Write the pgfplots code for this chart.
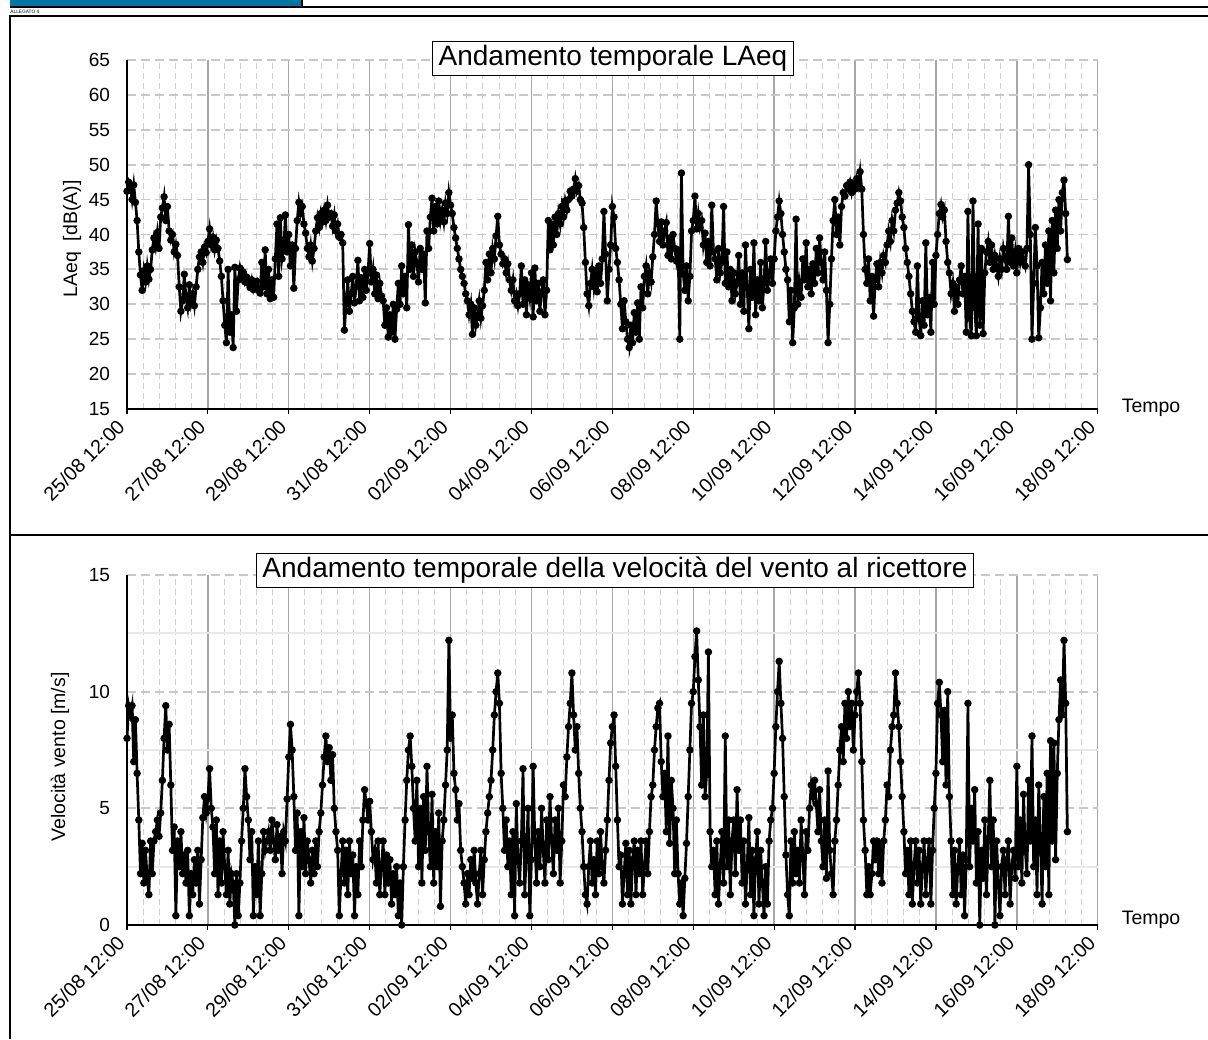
\documentclass[border=0pt]{standalone}
\usepackage{fontspec}
\setmainfont{Liberation Sans}
\usepackage{pgfplots}
\pgfplotsset{compat=1.18}
\definecolor{majgrid}{RGB}{170,166,166}
\definecolor{mingrid}{RGB}{208,208,208}
\definecolor{hgrid}{RGB}{200,200,200}
\definecolor{hmin}{RGB}{232,232,232}
\definecolor{hdrblue}{RGB}{0,118,166}
\pgfplotsset{
  panel/.style={
    scale only axis,
    width=485.35pt,
    xmin=0, xmax=576,
    xtick={0,48,...,576},
    xticklabels={25/08 12:00,27/08 12:00,29/08 12:00,31/08 12:00,02/09 12:00,04/09 12:00,06/09 12:00,08/09 12:00,10/09 12:00,12/09 12:00,14/09 12:00,16/09 12:00,18/09 12:00},
    minor x tick num=4,
    axis x line*=bottom, axis y line*=left,
    axis line style={-, line width=0.75pt, black},
    major tick length=2.5pt, minor tick length=0pt,
    xtick align=outside,
    every major x tick/.append style={black, line width=0.6pt},
    every major y tick/.append style={draw=none},
    xmajorgrids, xminorgrids, ymajorgrids,
    major x grid style={majgrid, line width=0.7pt},
    minor x grid style={mingrid, line width=0.5pt, dash pattern=on 3pt off 2pt},
    major y grid style={hgrid, line width=0.9pt, dash pattern=on 4.5pt off 2.5pt},
    tick label style={font=\fontsize{9.5}{11}\selectfont},
    xticklabel style={rotate=45, anchor=north east, yshift=6.05pt, xshift=-1.9pt, font=\fontsize{9.9}{12}\selectfont},
    yticklabel style={xshift=-5pt},
    /pgf/number format/assume math mode=true,
    clip=false,
  },
  ser/.style={black, line width=1.35pt, mark=*, mark size=1.15pt, mark options={solid, fill=black}},
}
\begin{document}
\begin{tikzpicture}[x=0.5pt, y=0.5pt]
\path[fill=white] (0,0) rectangle (1208,1039);
% header
\fill[hdrblue] (10,1032) rectangle (302,1039);
\draw[line width=1pt] (10,1031.5) -- (1208,1031.5);
\draw[line width=1pt] (302,1031.5) -- (302,1039);
\node[anchor=west, font=\fontsize{2.4}{3}\selectfont, inner sep=0pt] at (10,1027) {ALLEGATO 4};
% frames
\draw[line width=1pt] (9.5,0) -- (9.5,1022.5) -- (1208,1022.5);
\draw[line width=1pt] (9.5,504) -- (1208,504);

\begin{axis}[panel, at={(63.5pt,315pt)}, anchor=south west, height=174.5pt,
  ymin=15, ymax=65, ytick={15,20,...,65}]
\addplot[ser] coordinates {
(0,46.2)(1,47.5)(2,46.8)(3,45.0)(4,47.1)(5,44.6)(6,42.0)(7,37.5)(8,34.2)(9,32.0)(10,34.8)(11,33.2)(12,35.5)(13,33.6)(14,35.0)(15,37.8)(16,39.5)(17,38.2)(18,40.3)(19,38.0)(20,42.5)(21,43.8)(22,45.4)(23,42.0)
(24,44.0)(25,40.5)(26,39.2)(27,40.0)(28,37.5)(29,38.6)(30,37.0)(31,32.5)(32,29.0)(33,30.5)(34,34.3)(35,31.0)(36,29.5)(37,32.8)(38,30.2)(39,31.5)(40,29.8)(41,32.5)(42,35.0)(43,36.8)(44,37.5)(45,36.0)(46,38.2)(47,37.4)
(48,39.0)(49,40.8)(50,38.5)(51,39.6)(52,37.8)(53,39.2)(54,38.0)(55,36.2)(56,34.0)(57,30.5)(58,27.0)(59,24.5)(60,35.0)(61,26.0)(62,28.5)(63,23.8)(64,35.3)(65,29.0)(66,33.5)(67,35.2)(68,33.8)(69,34.6)(70,33.2)(71,33.9)
(72,33.0)(73,32.4)(74,33.5)(75,32.1)(76,32.8)(77,33.3)(78,32.0)(79,31.6)(80,36.0)(81,32.5)(82,37.8)(83,31.5)(84,35.0)(85,30.8)(86,33.5)(87,31.0)(88,36.5)(89,41.5)(90,34.0)(91,42.4)(92,36.5)(93,38.0)(94,42.8)(95,37.5)
(96,40.0)(97,35.5)(98,38.5)(99,32.3)(100,38.0)(101,42.0)(102,44.6)(103,43.0)(104,44.0)(105,41.5)(106,40.2)(107,38.0)(108,36.8)(109,38.5)(110,36.2)(111,38.0)(112,40.5)(113,42.4)(114,41.0)(115,43.0)(116,41.8)(117,43.5)(118,42.0)(119,44.2)
(120,42.5)(121,43.0)(122,41.2)(123,42.8)(124,40.5)(125,41.5)(126,39.6)(127,40.0)(128,38.8)(129,26.3)(130,30.0)(131,33.5)(132,29.0)(133,31.5)(134,34.0)(135,30.2)(136,32.5)(137,36.3)(138,30.5)(139,33.8)(140,31.0)(141,35.0)(142,32.0)(143,34.5)
(144,38.7)(145,33.2)(146,35.0)(147,31.5)(148,34.2)(149,30.8)(150,33.0)(151,31.2)(152,30.5)(153,27.0)(154,29.5)(155,25.3)(156,28.5)(157,26.0)(158,30.0)(159,25.0)(160,29.3)(161,33.0)(162,30.0)(163,35.5)(164,31.5)(165,34.0)(166,29.5)(167,41.4)
(168,35.0)(169,38.5)(170,34.0)(171,37.5)(172,36.0)(173,33.2)(174,38.0)(175,35.0)(176,37.2)(177,30.2)(178,40.5)(179,38.0)(180,42.5)(181,45.2)(182,40.5)(183,44.0)(184,41.5)(185,44.8)(186,42.0)(187,43.5)(188,41.8)(189,44.5)(190,43.0)(191,46.0)
(192,44.2)(193,43.0)(194,41.0)(195,39.5)(196,38.0)(197,36.5)(198,35.0)(199,34.0)(200,33.0)(201,31.5)(202,30.5)(203,28.5)(204,30.0)(205,25.7)(206,29.5)(207,27.0)(208,28.5)(209,30.5)(210,28.0)(211,29.8)(212,32.0)(213,36.0)(214,33.5)(215,37.2)
(216,34.5)(217,38.0)(218,36.5)(219,39.8)(220,42.6)(221,38.5)(222,37.2)(223,35.8)(224,36.5)(225,34.5)(226,35.8)(227,33.5)(228,32.0)(229,33.5)(230,30.5)(231,31.5)(232,29.8)(233,31.5)(234,35.5)(235,30.0)(236,33.5)(237,28.5)(238,32.8)(239,31.0)
(240,34.5)(241,28.2)(242,35.2)(243,30.5)(244,33.0)(245,29.0)(246,31.8)(247,33.5)(248,28.5)(249,32.0)(250,42.0)(251,37.8)(252,41.5)(253,38.5)(254,42.5)(255,40.0)(256,43.0)(257,41.5)(258,44.0)(259,42.5)(260,44.8)(261,43.5)(262,45.0)(263,46.2)
(264,45.5)(265,46.5)(266,48.0)(267,46.2)(268,47.0)(269,45.0)(270,44.5)(271,41.0)(272,36.0)(273,31.5)(274,29.8)(275,33.0)(276,35.0)(277,32.5)(278,34.8)(279,31.8)(280,35.5)(281,33.0)(282,36.5)(283,43.3)(284,37.2)(285,30.5)(286,35.0)(287,38.5)
(288,44.0)(289,42.5)(290,38.0)(291,36.0)(292,33.5)(293,30.0)(294,26.5)(295,30.5)(296,27.5)(297,25.0)(298,23.8)(299,27.0)(300,24.5)(301,28.8)(302,26.0)(303,30.2)(304,25.0)(305,32.5)(306,29.5)(307,34.0)(308,35.5)(309,31.5)(310,34.5)(311,33.2)
(312,36.8)(313,40.0)(314,44.8)(315,41.5)(316,39.0)(317,41.8)(318,38.5)(319,40.5)(320,41.7)(321,37.0)(322,39.5)(323,36.5)(324,40.0)(325,38.0)(326,36.2)(327,37.8)(328,25.0)(329,48.8)(330,34.5)(331,32.0)(332,35.5)(333,30.5)(334,34.0)(335,40.5)
(336,42.0)(337,45.5)(338,40.8)(339,43.0)(340,41.0)(341,42.0)(342,38.5)(343,40.2)(344,36.0)(345,39.0)(346,35.5)(347,44.2)(348,37.5)(349,36.5)(350,33.5)(351,38.0)(352,34.5)(353,36.0)(354,44.0)(355,33.0)(356,37.5)(357,32.5)(358,35.0)(359,30.5)
(360,34.5)(361,31.5)(362,33.0)(363,37.0)(364,30.0)(365,34.5)(366,29.0)(367,38.5)(368,32.5)(369,26.5)(370,35.0)(371,31.0)(372,38.8)(373,28.5)(374,33.5)(375,30.5)(376,36.0)(377,29.5)(378,33.0)(379,39.0)(380,32.0)(381,34.0)(382,36.5)(383,33.0)
(384,36.5)(385,40.5)(386,42.5)(387,44.8)(388,43.0)(389,40.0)(390,37.5)(391,35.0)(392,33.5)(393,27.5)(394,32.0)(395,24.5)(396,29.5)(397,42.2)(398,30.0)(399,33.0)(400,31.0)(401,36.5)(402,33.5)(403,38.8)(404,32.5)(405,35.0)(406,31.5)(407,35.8)
(408,33.0)(409,38.0)(410,34.5)(411,39.5)(412,36.0)(413,33.5)(414,37.5)(415,32.0)(416,24.5)(417,30.0)(418,36.5)(419,42.0)(420,45.0)(421,40.0)(422,42.5)(423,38.5)(424,44.0)(425,46.0)(426,45.5)(427,47.0)(428,46.5)(429,47.5)(430,46.0)(431,47.2)
(432,46.5)(433,48.0)(434,47.0)(435,49.0)(436,46.5)(437,40.0)(438,35.0)(439,33.0)(440,36.5)(441,30.5)(442,34.0)(443,28.3)(444,33.5)(445,35.8)(446,32.5)(447,36.0)(448,34.5)(449,37.0)(450,36.0)(451,38.5)(452,40.5)(453,39.0)(454,42.0)(455,40.5)
(456,43.5)(457,44.5)(458,46.0)(459,44.8)(460,42.5)(461,41.0)(462,38.0)(463,36.0)(464,34.0)(465,31.5)(466,29.0)(467,27.5)(468,26.0)(469,35.5)(470,28.0)(471,25.5)(472,30.5)(473,27.0)(474,38.8)(475,28.5)(476,31.0)(477,26.0)(478,36.0)(479,30.0)
(480,37.0)(481,40.0)(482,43.0)(483,44.3)(484,42.5)(485,43.5)(486,39.0)(487,36.0)(488,34.5)(489,31.5)(490,33.0)(491,29.0)(492,32.5)(493,30.0)(494,33.5)(495,35.5)(496,31.5)(497,34.0)(498,26.0)(499,43.3)(500,28.0)(501,25.5)(502,44.8)(503,29.5)
(504,25.5)(505,41.5)(506,27.0)(507,38.0)(508,25.8)(509,34.5)(510,37.5)(511,39.0)(512,36.0)(513,38.5)(514,35.0)(515,37.0)(516,35.5)(517,34.0)(518,36.5)(519,35.0)(520,38.0)(521,36.5)(522,35.0)(523,42.6)(524,36.0)(525,39.5)(526,35.5)(527,37.5)
(528,34.5)(529,38.0)(530,36.0)(531,37.5)(532,36.5)(533,35.5)(534,38.0)(535,50.0)(536,40.0)(537,25.0)(538,33.0)(539,41.0)(540,35.5)(541,25.2)(542,29.5)(543,36.0)(544,31.5)(545,38.5)(546,33.0)(547,40.5)(548,30.5)(549,42.0)(550,34.5)(551,43.5)
(552,38.0)(553,45.0)(554,40.5)(555,46.0)(556,47.8)(557,43.0)(558,36.4)
};
\end{axis}

\begin{axis}[panel, at={(63.5pt,57pt)}, anchor=south west, height=175pt,
  ymin=0, ymax=15, ytick={0,5,10,15}, minor y tick num=1, yminorgrids,
  minor y grid style={hmin, line width=0.9pt}]
\addplot[ser] coordinates {
(0,8.0)(1,9.4)(2,9.0)(3,9.4)(4,7.0)(5,8.8)(6,6.5)(7,4.5)(8,2.2)(9,3.5)(10,1.8)(11,3.2)(12,2.0)(13,1.3)(14,3.6)(15,2.2)(16,3.6)(17,4.0)(18,4.5)(19,3.8)(20,4.8)(21,6.2)(22,8.0)(23,9.4)
(24,7.5)(25,8.6)(26,6.0)(27,3.2)(28,4.2)(29,0.4)(30,3.6)(31,2.5)(32,4.0)(33,2.2)(34,3.0)(35,1.8)(36,3.2)(37,0.4)(38,2.2)(39,1.3)(40,2.8)(41,1.8)(42,3.2)(43,0.9)(44,2.8)(45,4.6)(46,5.5)(47,4.8)
(48,5.4)(49,6.7)(50,5.0)(51,4.2)(52,2.2)(53,4.5)(54,1.3)(55,3.6)(56,1.8)(57,4.0)(58,2.5)(59,1.3)(60,3.2)(61,0.9)(62,2.2)(63,1.8)(64,0.0)(65,2.2)(66,0.4)(67,1.8)(68,3.6)(69,5.0)(70,6.7)(71,5.5)
(72,4.5)(73,2.8)(74,4.0)(75,0.4)(76,2.5)(77,1.3)(78,3.6)(79,0.4)(80,2.2)(81,4.0)(82,3.2)(83,3.6)(84,4.0)(85,3.2)(86,4.5)(87,3.6)(88,2.8)(89,4.3)(90,3.2)(91,3.8)(92,2.2)(93,4.0)(94,3.6)(95,5.4)
(96,7.2)(97,8.6)(98,7.5)(99,5.5)(100,3.2)(101,4.8)(102,0.4)(103,4.0)(104,2.5)(105,4.6)(106,2.2)(107,3.6)(108,2.8)(109,1.8)(110,3.2)(111,2.2)(112,3.6)(113,2.5)(114,4.0)(115,4.8)(116,6.0)(117,7.2)(118,8.1)(119,7.0)
(120,7.6)(121,6.2)(122,7.3)(123,5.0)(124,4.0)(125,3.2)(126,0.4)(127,2.2)(128,3.6)(129,1.8)(130,3.2)(131,1.3)(132,3.6)(133,2.2)(134,3.0)(135,0.4)(136,2.5)(137,1.3)(138,3.6)(139,2.5)(140,4.5)(141,5.8)(142,5.2)(143,4.5)
(144,5.3)(145,4.0)(146,2.8)(147,3.2)(148,1.8)(149,3.6)(150,1.3)(151,2.5)(152,3.6)(153,1.3)(154,3.0)(155,1.8)(156,2.8)(157,0.9)(158,2.2)(159,1.3)(160,2.5)(161,0.4)(162,1.8)(163,0.0)(164,2.5)(165,4.5)(166,6.2)(167,7.5)
(168,8.1)(169,6.8)(170,5.0)(171,3.6)(172,6.2)(173,2.5)(174,5.0)(175,1.8)(176,5.5)(177,3.2)(178,6.8)(179,4.0)(180,2.5)(181,5.6)(182,1.8)(183,4.0)(184,2.5)(185,4.8)(186,0.8)(187,3.6)(188,4.5)(189,6.0)(190,7.5)(191,12.2)
(192,8.0)(193,9.0)(194,6.5)(195,5.8)(196,4.5)(197,5.2)(198,3.2)(199,2.5)(200,1.8)(201,0.9)(202,2.2)(203,1.3)(204,2.8)(205,2.0)(206,3.2)(207,1.8)(208,0.9)(209,2.2)(210,3.2)(211,1.3)(212,2.8)(213,4.0)(214,4.8)(215,5.5)
(216,6.2)(217,7.5)(218,9.0)(219,10.0)(220,10.8)(221,9.5)(222,6.5)(223,5.0)(224,3.2)(225,4.5)(226,2.5)(227,3.6)(228,1.3)(229,4.0)(230,0.4)(231,5.2)(232,2.8)(233,1.8)(234,3.6)(235,6.7)(236,1.3)(237,3.2)(238,5.0)(239,0.4)
(240,2.8)(241,6.8)(242,3.6)(243,1.8)(244,4.0)(245,2.5)(246,5.0)(247,3.2)(248,1.8)(249,4.5)(250,2.8)(251,5.5)(252,3.6)(253,2.2)(254,4.5)(255,3.2)(256,5.0)(257,1.8)(258,3.6)(259,6.0)(260,5.5)(261,7.2)(262,8.5)(263,9.5)
(264,10.8)(265,9.0)(266,7.5)(267,8.5)(268,6.5)(269,5.0)(270,4.0)(271,2.5)(272,1.3)(273,0.9)(274,2.5)(275,3.6)(276,1.8)(277,2.8)(278,1.3)(279,3.6)(280,2.2)(281,4.0)(282,2.5)(283,1.8)(284,3.2)(285,4.5)(286,6.2)(287,7.8)
(288,8.5)(289,9.0)(290,6.8)(291,4.5)(292,2.5)(293,3.0)(294,0.9)(295,2.2)(296,3.5)(297,1.3)(298,3.2)(299,0.9)(300,2.8)(301,3.6)(302,1.3)(303,3.2)(304,2.2)(305,3.6)(306,1.3)(307,2.5)(308,3.6)(309,2.2)(310,4.0)(311,5.5)
(312,6.0)(313,7.5)(314,8.5)(315,9.3)(316,9.5)(317,7.0)(318,5.5)(319,6.5)(320,4.0)(321,8.1)(322,3.5)(323,6.2)(324,5.0)(325,2.2)(326,4.5)(327,2.2)(328,0.9)(329,1.8)(330,0.4)(331,2.0)(332,3.5)(333,5.5)(334,7.5)(335,9.5)
(336,10.0)(337,11.5)(338,12.6)(339,10.5)(340,8.5)(341,6.0)(342,9.0)(343,5.5)(344,6.5)(345,11.7)(346,4.0)(347,2.5)(348,3.2)(349,1.3)(350,3.6)(351,0.9)(352,2.5)(353,4.0)(354,1.8)(355,8.1)(356,2.5)(357,4.5)(358,1.3)(359,3.6)
(360,4.5)(361,2.2)(362,5.8)(363,3.2)(364,4.5)(365,1.8)(366,3.6)(367,0.9)(368,2.5)(369,4.6)(370,1.3)(371,3.2)(372,0.4)(373,2.8)(374,4.0)(375,0.9)(376,3.2)(377,1.8)(378,0.4)(379,2.5)(380,0.9)(381,3.6)(382,4.5)(383,5.0)
(384,6.5)(385,8.5)(386,10.0)(387,11.3)(388,9.5)(389,8.0)(390,5.5)(391,3.0)(392,1.3)(393,0.4)(394,3.6)(395,1.8)(396,4.0)(397,2.2)(398,3.2)(399,1.8)(400,4.5)(401,3.0)(402,1.3)(403,4.0)(404,3.2)(405,5.0)(406,6.0)(407,5.5)
(408,6.2)(409,5.2)(410,4.0)(411,5.8)(412,3.6)(413,2.5)(414,4.5)(415,2.0)(416,6.6)(417,3.2)(418,2.2)(419,1.3)(420,3.6)(421,4.5)(422,6.0)(423,7.5)(424,8.5)(425,7.0)(426,9.5)(427,8.0)(428,10.0)(429,8.5)(430,9.5)(431,7.5)
(432,9.0)(433,10.0)(434,10.8)(435,9.5)(436,7.0)(437,4.5)(438,3.2)(439,1.3)(440,2.5)(441,1.3)(442,2.2)(443,3.6)(444,2.8)(445,3.6)(446,2.2)(447,3.5)(448,1.8)(449,3.6)(450,4.5)(451,6.0)(452,5.5)(453,7.5)(454,8.5)(455,9.0)
(456,10.8)(457,9.5)(458,8.5)(459,7.0)(460,5.5)(461,4.0)(462,2.2)(463,3.2)(464,1.3)(465,3.6)(466,0.9)(467,2.5)(468,3.6)(469,1.8)(470,3.2)(471,0.9)(472,2.5)(473,3.6)(474,1.3)(475,2.8)(476,3.6)(477,0.9)(478,3.2)(479,5.0)
(480,6.5)(481,9.5)(482,10.4)(483,9.0)(484,7.0)(485,9.2)(486,6.0)(487,10.0)(488,5.5)(489,3.6)(490,1.3)(491,3.2)(492,0.9)(493,2.5)(494,3.6)(495,1.3)(496,3.0)(497,0.4)(498,2.8)(499,9.5)(500,2.5)(501,5.0)(502,3.6)(503,5.8)
(504,1.8)(505,4.0)(506,0.0)(507,3.2)(508,2.0)(509,4.5)(510,1.3)(511,3.6)(512,6.2)(513,2.5)(514,4.5)(515,0.0)(516,3.6)(517,1.8)(518,0.4)(519,2.5)(520,3.2)(521,1.3)(522,2.8)(523,3.6)(524,0.9)(525,2.5)(526,3.2)(527,2.0)
(528,6.8)(529,2.5)(530,4.5)(531,1.8)(532,5.6)(533,3.2)(534,2.2)(535,6.2)(536,3.6)(537,8.1)(538,2.5)(539,4.5)(540,1.3)(541,6.0)(542,3.6)(543,0.9)(544,5.5)(545,2.5)(546,6.5)(547,1.3)(548,7.9)(549,3.6)(550,7.8)(551,2.8)
(552,6.5)(553,8.8)(554,10.5)(555,9.0)(556,12.2)(557,9.5)(558,4.0)
};
\end{axis}

% titles and labels
\node[draw, fill=white, line width=0.75pt, inner xsep=3pt, inner ysep=2pt, font=\fontsize{14}{16}\selectfont] at (613,980.5) {Andamento temporale LAeq};
\node[draw, fill=white, line width=0.75pt, inner xsep=3pt, inner ysep=2pt, font=\fontsize{14}{16}\selectfont] at (615,468.5) {Andamento temporale della velocità del vento al ricettore};
\node[font=\fontsize{9.75}{12}\selectfont] at (1151,631) {Tempo};
\node[font=\fontsize{9.75}{12}\selectfont] at (1151,119) {Tempo};
\node[rotate=90, font=\fontsize{9.75}{12}\selectfont] at (72,800) {LAeq\ \ [dB(A)]};
\node[rotate=90, font=\fontsize{9.75}{12}\selectfont] at (60,282) {Velocità vento [m/s]};
\pgfresetboundingbox
\path[use as bounding box] (0,0) rectangle (1208,1039);
\end{tikzpicture}
\end{document}
